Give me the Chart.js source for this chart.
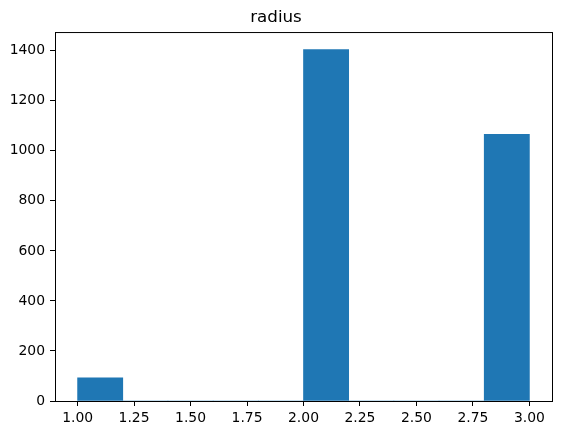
<!DOCTYPE html>
<html lang="en">
<head>
  <meta charset="UTF-8" />
  <title>radius</title>
  <script src="https://cdn.jsdelivr.net/npm/chart.js"></script>
  <style>
    html, body { margin: 0; padding: 0; background: #fff; }
    canvas { display: block; }
  </style>
</head>
<body>
  <canvas id="histChart" width="564" height="435"></canvas>

  <script>
    // histogram of radius, 10 bins between 1.0 and 3.0
    const binCenters = [1.1, 1.3, 1.5, 1.7, 1.9, 2.1, 2.3, 2.5, 2.7, 2.9];
    const counts = [93, 0, 0, 0, 0, 1405, 0, 0, 0, 1066];
    const xTicks = [1.0, 1.25, 1.5, 1.75, 2.0, 2.25, 2.5, 2.75, 3.0];
    const yTicks = [0, 200, 400, 600, 800, 1000, 1200, 1400];

    const font = { family: "'DejaVu Sans', sans-serif", size: 13.9 };

    // matplotlib-like frame round the plot area
    const frame = {
      id: 'frame',
      afterDraw(chart) {
        const a = chart.chartArea;
        const ctx = chart.ctx;
        ctx.save();
        ctx.strokeStyle = '#000';
        ctx.lineWidth = 1;
        ctx.strokeRect(a.left + 0.5, a.top + 0.5, a.right - a.left, a.bottom - a.top);
        ctx.restore();
      }
    };

    new Chart(document.getElementById('histChart'), {
      type: 'bar',
      data: {
        datasets: [{
          data: binCenters.map((x, i) => ({ x: x, y: counts[i] })),
          backgroundColor: '#1f77b4',
          borderColor: '#1f77b4',
          borderWidth: 0,
          barPercentage: 1.0,
          categoryPercentage: 1.0
        }]
      },
      plugins: [frame],
      options: {
        responsive: false,
        animation: false,
        devicePixelRatio: 1,
        layout: { padding: { left: 0, right: 12, top: 0, bottom: 0 } },
        plugins: {
          legend: { display: false },
          tooltip: { enabled: false },
          title: {
            display: true,
            text: 'radius',
            color: '#000',
            font: { family: "'DejaVu Sans', sans-serif", size: 16.7, weight: 'normal' },
            padding: { top: 8, bottom: 4 }
          }
        },
        scales: {
          x: {
            type: 'linear',
            min: 0.9,
            max: 3.1,
            offset: false,
            afterBuildTicks: s => { s.ticks = xTicks.map(v => ({ value: v })); },
            afterFit: s => { s.height = 34; },
            ticks: {
              color: '#000',
              font: font,
              padding: 4,
              maxRotation: 0,
              autoSkip: false,
              callback: v => v.toFixed(2)
            },
            grid: {
              offset: false,
              drawOnChartArea: false,
              drawTicks: true,
              tickLength: 5,
              tickColor: '#000'
            },
            border: { display: true, color: '#000', width: 1 }
          },
          y: {
            min: 0,
            max: 1475,
            afterBuildTicks: s => { s.ticks = yTicks.map(v => ({ value: v })); },
            afterFit: s => { s.width = 55; },
            ticks: {
              color: '#000',
              font: font,
              padding: 5,
              autoSkip: false,
              callback: v => String(v)
            },
            grid: {
              drawOnChartArea: false,
              drawTicks: true,
              tickLength: 5,
              tickColor: '#000'
            },
            border: { display: true, color: '#000', width: 1 }
          }
        }
      }
    });
  </script>
</body>
</html>
